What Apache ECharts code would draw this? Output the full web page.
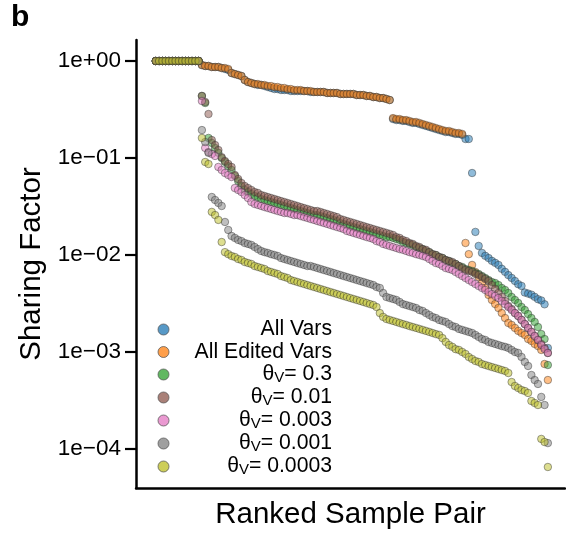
<!DOCTYPE html>
<html><head><meta charset="utf-8">
<script src="https://cdn.jsdelivr.net/npm/echarts@6.0.0/dist/echarts.min.js"></script>
<style>html,body{margin:0;padding:0;background:#fff}#c{width:566px;height:535px}</style>
</head><body><div id="c"></div>
<script>
// Ranked sample pairs: index 0..119 along x
const seriesNames = ['All Vars','All Edited Vars','θV= 0.3','θV= 0.01','θV= 0.003','θV= 0.001','θV= 0.0003'];
const colors = ['#1f77b4','#ff7f0e','#2ca02c','#8c564b','#e377c2','#7f7f7f','#bcbd22'];
const yTickValues = [1, 0.1, 0.01, 0.001, 0.0001];
const yTickLabels = ['1e+00','1e\u221201','1e\u221202','1e\u221203','1e\u221204'];

const allVars = [
1,1,1,1,1,1,1,1,1,1,
1,1,1,1,0.909,0.888,0.888,0.867,0.867,0.867,
0.847,0.827,0.808,0.752,0.734,0.717,0.700,0.637,0.607,0.593,
0.579,0.566,0.566,0.552,0.539,0.527,0.514,0.514,0.502,0.502,
0.502,0.490,0.490,0.490,0.490,0.490,0.490,0.479,0.479,0.479,
0.479,0.479,0.468,0.468,0.468,0.468,0.457,0.457,0.457,0.457,
0.457,0.446,0.446,0.446,0.436,0.436,0.425,0.425,0.415,0.415,
0.406,0.396,0.252,0.246,0.246,0.241,0.241,0.235,0.230,0.230,
0.224,0.219,0.214,0.209,0.204,0.199,0.194,0.190,0.185,0.185,
0.181,0.177,0.177,0.173,0.157,0.157,0.070,0.0173,0.0124,0.0105,
0.0098,0.0093,0.0087,0.0083,0.0079,0.0072,0.0067,0.0062,0.0058,0.0054,
0.0050,0.0048,0.0041,0.0040,0.0039,0.0037,0.0035,0.0034,0.0031,0.0011];

const allEditedVars = [
1,1,1,1,1,1,1,1,1,1,
1,1,1,1,0.909,0.888,0.888,0.867,0.867,0.867,
0.847,0.847,0.827,0.752,0.734,0.717,0.700,0.637,0.607,0.593,
0.579,0.579,0.566,0.566,0.552,0.552,0.539,0.539,0.527,0.527,
0.514,0.514,0.502,0.502,0.502,0.490,0.490,0.490,0.479,0.479,
0.479,0.479,0.468,0.468,0.468,0.468,0.457,0.457,0.457,0.457,
0.457,0.446,0.446,0.446,0.436,0.436,0.425,0.425,0.415,0.415,
0.406,0.396,0.258,0.252,0.252,0.246,0.246,0.241,0.235,0.235,
0.230,0.224,0.219,0.214,0.209,0.204,0.199,0.194,0.190,0.190,
0.185,0.181,0.181,0.177,0.0133,0.0102,0.00789,0.00668,0.00593,0.00514,
0.00457,0.00387,0.00344,0.00312,0.00284,0.00252,0.00224,0.00199,0.00190,0.00177,
0.00165,0.00157,0.00150,0.00136,0.00130,0.00121,0.00115,0.00105,0.000752,0.000514];

const theta0_3 = [
1,1,1,1,1,1,1,1,1,1,
1,1,1,1,0.436,0.369,0.161,0.143,0.127,0.113,
0.100,0.0909,0.0827,0.0752,0.0652,0.0579,0.0514,0.0468,0.0446,0.0425,
0.0406,0.0396,0.0378,0.0369,0.0360,0.0352,0.0344,0.0336,0.0328,0.0320,
0.0312,0.0305,0.0298,0.0291,0.0284,0.0278,0.0271,0.0265,0.0258,0.0258,
0.0252,0.0246,0.0241,0.0235,0.0230,0.0224,0.0214,0.0209,0.0204,0.0199,
0.0194,0.0190,0.0185,0.0181,0.0177,0.0173,0.0169,0.0165,0.0161,0.0157,
0.0153,0.0153,0.0150,0.0146,0.0143,0.0136,0.0133,0.0130,0.0127,0.0121,
0.0118,0.0115,0.0110,0.0107,0.0102,0.0100,0.00954,0.00931,0.00888,0.00867,
0.00827,0.00808,0.00770,0.00752,0.00717,0.00700,0.00684,0.00652,0.00637,0.00607,
0.00579,0.00552,0.00527,0.00514,0.00490,0.00457,0.00436,0.00406,0.00369,0.00344,
0.00320,0.00291,0.00271,0.00246,0.00224,0.00204,0.00181,0.00153,0.00136,0.000734];

const theta0_01 = [
1,1,1,1,1,1,1,1,1,1,
1,1,1,1,0.436,0.378,0.284,0.153,0.136,0.121,
0.102,0.0931,0.0867,0.0808,0.0668,0.0607,0.0552,0.0514,0.0490,0.0468,
0.0446,0.0436,0.0415,0.0406,0.0396,0.0387,0.0378,0.0369,0.0360,0.0352,
0.0344,0.0336,0.0328,0.0320,0.0312,0.0305,0.0298,0.0291,0.0284,0.0284,
0.0278,0.0271,0.0265,0.0258,0.0252,0.0246,0.0235,0.0230,0.0224,0.0219,
0.0214,0.0209,0.0204,0.0199,0.0194,0.0190,0.0185,0.0181,0.0177,0.0173,
0.0169,0.0165,0.0161,0.0153,0.0150,0.0143,0.0139,0.0133,0.0130,0.0124,
0.0121,0.0115,0.0113,0.0107,0.0102,0.0100,0.00954,0.00931,0.00888,0.00867,
0.00847,0.00808,0.00770,0.00734,0.00700,0.00684,0.00668,0.00637,0.00622,0.00593,
0.00566,0.00539,0.00490,0.00446,0.00406,0.00369,0.00336,0.00298,0.00278,0.00252,
0.00235,0.00214,0.00194,0.00177,0.00161,0.00146,0.00133,0.00121,0.00110,0.000977];

const theta0_003 = [
1,1,1,1,1,1,1,1,1,1,
1,1,1,1,0.387,0.127,0.115,0.110,0.105,0.0808,
0.0752,0.0700,0.0668,0.0637,0.0490,0.0468,0.0446,0.0415,0.0387,0.0352,
0.0336,0.0328,0.0320,0.0312,0.0305,0.0298,0.0291,0.0284,0.0278,0.0271,
0.0271,0.0265,0.0258,0.0258,0.0252,0.0246,0.0241,0.0235,0.0230,0.0224,
0.0219,0.0214,0.0209,0.0204,0.0199,0.0194,0.0190,0.0185,0.0177,0.0173,
0.0169,0.0165,0.0161,0.0157,0.0153,0.0150,0.0146,0.0139,0.0136,0.0130,
0.0127,0.0124,0.0121,0.0118,0.0115,0.0113,0.0110,0.0107,0.0105,0.0102,
0.0100,0.00977,0.00954,0.00909,0.00867,0.00827,0.00808,0.00770,0.00734,0.00717,
0.00700,0.00668,0.00637,0.00607,0.00579,0.00552,0.00527,0.00502,0.00479,0.00457,
0.00436,0.00415,0.00396,0.00378,0.00360,0.00336,0.00312,0.00291,0.00271,0.00252,
0.00235,0.00214,0.00194,0.00177,0.00161,0.00146,0.00133,0.00118,0.00107,0.000977];

const theta0_001 = [
1,1,1,1,1,1,1,1,1,1,
1,1,1,1,0.194,0.146,0.113,0.0396,0.0369,0.0344,
0.0320,0.0219,0.0181,0.0157,0.0150,0.0143,0.0139,0.0133,0.0130,0.0127,
0.0121,0.0115,0.0110,0.0107,0.0105,0.0102,0.0100,0.00977,0.00931,0.00909,
0.00888,0.00867,0.00847,0.00827,0.00808,0.00789,0.00770,0.00770,0.00752,0.00734,
0.00717,0.00700,0.00684,0.00668,0.00652,0.00637,0.00622,0.00607,0.00593,0.00579,
0.00566,0.00552,0.00539,0.00527,0.00514,0.00502,0.00490,0.00468,0.00457,0.00406,
0.00369,0.00360,0.00352,0.00344,0.00328,0.00312,0.00305,0.00298,0.00291,0.00284,
0.00271,0.00265,0.00252,0.00241,0.00230,0.00224,0.00214,0.00209,0.00204,0.00194,
0.00185,0.00181,0.00173,0.00169,0.00165,0.00161,0.00157,0.00150,0.00143,0.00136,
0.00133,0.00127,0.00124,0.00121,0.00118,0.00115,0.00113,0.00110,0.00105,0.00100,
0.000977,0.000888,0.000789,0.000717,0.000579,0.000514,0.000468,0.000344,0.000284,0.000115];

const theta0_0003 = [
1,1,1,1,1,1,1,1,1,1,
1,1,1,1,0.161,0.0909,0.0867,0.0278,0.0258,0.0230,
0.0136,0.0107,0.0102,0.00977,0.00954,0.00909,0.00888,0.00847,0.00827,0.00808,
0.00770,0.00752,0.00734,0.00717,0.00684,0.00668,0.00652,0.00637,0.00607,0.00593,
0.00579,0.00552,0.00539,0.00527,0.00514,0.00502,0.00490,0.00479,0.00468,0.00457,
0.00446,0.00436,0.00425,0.00415,0.00406,0.00396,0.00387,0.00378,0.00369,0.00360,
0.00352,0.00344,0.00336,0.00328,0.00320,0.00312,0.00305,0.00291,0.00252,0.00230,
0.00219,0.00214,0.00209,0.00204,0.00199,0.00194,0.00190,0.00185,0.00181,0.00177,
0.00173,0.00169,0.00165,0.00161,0.00157,0.00153,0.00150,0.00139,0.00127,0.00118,
0.00113,0.00107,0.00105,0.00100,0.000954,0.000888,0.000847,0.000808,0.000789,0.000752,
0.000734,0.000717,0.000700,0.000684,0.000668,0.000652,0.000637,0.000607,0.000490,0.000446,
0.000425,0.000406,0.000396,0.000378,0.000312,0.000298,0.000284,0.000127,0.000118,0.0000652];

const seriesValues = [allVars, allEditedVars, theta0_3, theta0_01, theta0_003, theta0_001, theta0_0003];

const FONT = 'Liberation Sans, Arial, Helvetica, sans-serif';
const chart = echarts.init(document.getElementById('c'), null, {renderer: 'canvas'});

function legendLabel(name) {
  if (name.indexOf('θV') === 0) {
    return '{t|θ}{s|V}{t|' + name.slice(2) + '}';
  }
  return '{t|' + name + '}';
}
function yLabel(v) {
  const k = Math.round(-Math.log10(v));
  return yTickLabels[k] !== undefined ? yTickLabels[k] : '';
}

chart.setOption({
  animation: false,
  backgroundColor: '#fff',
  title: {
    text: 'b', left: 11, top: 3, padding: 0,
    textStyle: {fontSize: 30, fontWeight: 'bold', fontFamily: FONT, color: '#000'}
  },
  grid: {left: 136, right: 1, top: 40, bottom: 47, containLabel: false, outerBoundsMode: 'none'},
  xAxis: {
    type: 'value', min: -6, max: 124.2,
    name: 'Ranked Sample Pair', nameLocation: 'middle', nameGap: 12,
    nameTextStyle: {fontSize: 29.5, fontFamily: FONT, color: '#000', verticalAlign: 'top'},
    axisLine: {show: true, onZero: false, lineStyle: {color: '#000', width: 2.5}},
    axisTick: {show: false}, axisLabel: {show: false}, splitLine: {show: false}
  },
  yAxis: {
    type: 'log', logBase: 10, min: 3.96e-5, max: 1.646,
    name: 'Sharing Factor', nameLocation: 'middle', nameGap: 79,
    nameTextStyle: {fontSize: 29.5, fontFamily: FONT, color: '#000'},
    axisLine: {show: true, onZero: false, lineStyle: {color: '#000', width: 2.5}},
    axisTick: {show: true, length: 11, customValues: yTickValues, lineStyle: {color: '#000', width: 2.2}},
    axisLabel: {show: true, margin: 15, customValues: yTickValues, formatter: yLabel,
      fontSize: 22.5, fontFamily: FONT, color: '#000'},
    splitLine: {show: false}, minorTick: {show: false}
  },
  legend: {
    orient: 'vertical', left: 157.5, top: 319, padding: 0, itemGap: 1.5,
    itemWidth: 11, itemHeight: 11, icon: 'circle', selectedMode: false,
    data: seriesNames,
    formatter: legendLabel,
    itemStyle: {borderColor: '#555', borderWidth: 1, opacity: 0.75},
    textStyle: {
      width: 158,
      rich: {
        t: {fontSize: 21.2, fontFamily: FONT, color: '#000', lineHeight: 22, verticalAlign: 'middle', align: 'right'},
        s: {fontSize: 15, fontFamily: FONT, color: '#000', lineHeight: 12, verticalAlign: 'bottom', align: 'right'}
      }
    }
  },
  series: seriesNames.map((name, k) => ({
    type: 'scatter', name: name,
    data: seriesValues[k].map((v, i) => [i, v]),
    symbol: 'circle', symbolSize: 7.5,
    itemStyle: {color: colors[k], opacity: 0.5, borderColor: '#333', borderWidth: 0.9},
    emphasis: {disabled: true}
  }))
});
</script></body></html>
